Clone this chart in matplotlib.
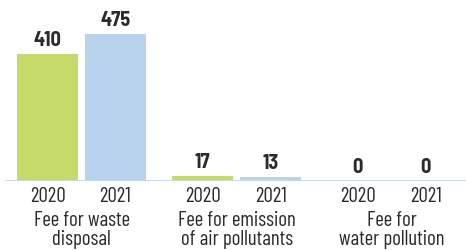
import matplotlib
matplotlib.use("Agg")
import matplotlib.pyplot as plt
import numpy as np

plt.rcParams['font.family'] = ['Barlow Condensed', 'DejaVu Sans']

# data
categories = [["Fee for waste", "disposal"],
              ["Fee for emission", "of air pollutants"],
              ["Fee for", "water pollution"]]
years = ["2020", "2021"]
values_2020 = [410, 17, 0]
values_2021 = [475, 13, 0]

green = "#c6da6a"
blue = "#b9d3ee"
txt = "#2b2b2b"
fs = 15

fig = plt.figure(figsize=(4.66, 2.5), dpi=100)
ax = fig.add_axes([0, 69 / 250, 1, 181 / 250])

x = np.arange(len(categories))
off = 0.219
w = 0.394

ax.bar(x - off, values_2020, w, color=green, zorder=2)
ax.bar(x + off, values_2021, w, color=blue, zorder=2)
ax.axhline(0, xmin=6 / 466, xmax=1, color="#c5d9ee", lw=1.3, zorder=3)

# value labels on top of bars
for xs, vals in [(x - off, values_2020), (x + off, values_2021)]:
    for xi, v in zip(xs, vals):
        ax.annotate(str(v), (xi, v), xytext=(0, 5.8), textcoords="offset points",
                    ha="center", va="baseline", fontsize=14.6, fontweight="bold",
                    family=["Barlow Semi Condensed", "DejaVu Sans"], color=txt)

# year labels and category labels below the axis
for i, lines in enumerate(categories):
    for xi, y in zip([x[i] - off, x[i] + off], years):
        ax.annotate(y, (xi, 0), xytext=(0, -15.1), textcoords="offset points",
                    ha="center", va="baseline", fontsize=fs, color=txt)
    for dy, line in zip([-32.4, -46.1], lines):
        ax.annotate(line, (x[i], 0), xytext=(0, dy), textcoords="offset points",
                    ha="center", va="baseline", fontsize=fs, color=txt)

ax.set_xlim(-0.526, 2.480)
ax.set_ylim(0, 181 / 0.3096)
ax.axis("off")

fig.savefig("out.png", dpi=100)
